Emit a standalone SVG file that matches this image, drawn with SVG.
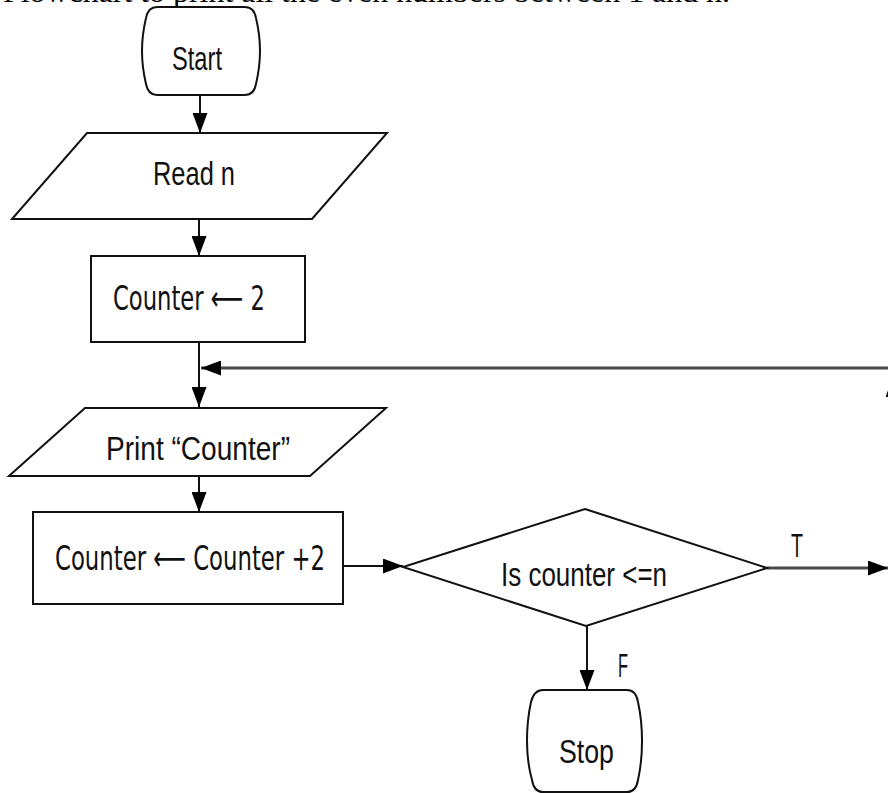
<svg xmlns="http://www.w3.org/2000/svg" width="888" height="793" viewBox="0 0 888 793">
<style>
.shape{fill:#fff;stroke:#111;stroke-width:2}
.lbl{font-family:"Liberation Sans","DejaVu Sans",sans-serif;font-size:34px;fill:#111}
.ln{stroke:#111;stroke-width:2;fill:none}
.gl{stroke:#4a4a4a;stroke-width:3;fill:none}
.title{font-family:"Liberation Serif","Times New Roman",serif;font-size:30px;fill:#000}
</style>
<defs>
<marker id="ah" markerUnits="userSpaceOnUse" markerWidth="20" markerHeight="15" refX="20" refY="7.5" orient="auto">
<path d="M0,0 L20,7.5 L0,15 Z" fill="#000"/>
</marker>
</defs>
<rect width="888" height="793" fill="#fff"/>
<text class="title" x="3" y="2" textLength="727" lengthAdjust="spacingAndGlyphs">Flowchart to print all the even numbers between 1 and n.</text>

<g id="connectors">
<line class="ln" x1="200" y1="95" x2="200" y2="133" marker-end="url(#ah)"/>
<line class="ln" x1="199" y1="219" x2="199" y2="256" marker-end="url(#ah)"/>
<line class="ln" x1="199" y1="342" x2="199" y2="407" marker-end="url(#ah)"/>
<line class="ln" x1="199" y1="476" x2="199" y2="512" marker-end="url(#ah)"/>
<line class="ln" x1="343" y1="566" x2="403" y2="566" marker-end="url(#ah)"/>
<line class="gl" x1="767" y1="568" x2="888" y2="568" marker-end="url(#ah)"/>
<line class="gl" x1="893" y1="368" x2="201" y2="368" marker-end="url(#ah)"/>
<line class="gl" x1="893" y1="568" x2="893" y2="377" marker-end="url(#ah)"/>
<line class="ln" x1="587" y1="626" x2="587" y2="690" marker-end="url(#ah)"/>
<text class="lbl" x="791" y="557" textLength="12" lengthAdjust="spacingAndGlyphs">T</text>
<text class="lbl" x="618" y="677" textLength="10" lengthAdjust="spacingAndGlyphs">F</text>
</g>

<g id="start">
<path class="shape" d="M157,7 H245 Q254,7 256,18 Q260,35 260,51 Q260,67 256,84 Q254,95 245,95 H157 Q148,95 146,84 Q142,67 142,51 Q142,35 146,18 Q148,7 157,7 Z"/>
<text class="lbl" x="172" y="70" textLength="50" lengthAdjust="spacingAndGlyphs">Start</text>
</g>

<g id="read">
<polygon class="shape" points="87,133 387,133 312,219 12,219"/>
<text class="lbl" x="153" y="185" textLength="82" lengthAdjust="spacingAndGlyphs">Read n</text>
</g>

<g id="init">
<rect class="shape" x="91" y="256" width="214" height="86"/>
<text class="lbl" x="113" y="310" textLength="152" lengthAdjust="spacingAndGlyphs" style="font-family:'DejaVu Sans Condensed','DejaVu Sans',sans-serif">Counter ⟵ 2</text>
</g>

<g id="print">
<polygon class="shape" points="85,408 386,408 310,476 9,476"/>
<text class="lbl" x="106" y="460" textLength="184" lengthAdjust="spacingAndGlyphs">Print “Counter”</text>
</g>

<g id="increment">
<rect class="shape" x="33" y="512" width="310" height="92"/>
<text class="lbl" x="55" y="570" textLength="270" lengthAdjust="spacingAndGlyphs" style="font-family:'DejaVu Sans Condensed','DejaVu Sans',sans-serif">Counter ⟵ Counter +2</text>
</g>

<g id="decision">
<polygon class="shape" points="585,509 767,568 586,626 403,567"/>
<text class="lbl" x="501" y="586" textLength="166" lengthAdjust="spacingAndGlyphs">Is counter &lt;=n</text>
</g>

<g id="stop">
<path class="shape" d="M543,690 H627 Q636,690 638,702 Q642,720 642,741 Q642,762 638,780 Q636,792 627,792 H543 Q534,792 532,780 Q527,762 527,741 Q527,720 531,702 Q534,690 543,690 Z"/>
<text class="lbl" x="559" y="763" textLength="55" lengthAdjust="spacingAndGlyphs">Stop</text>
</g>
</svg>
